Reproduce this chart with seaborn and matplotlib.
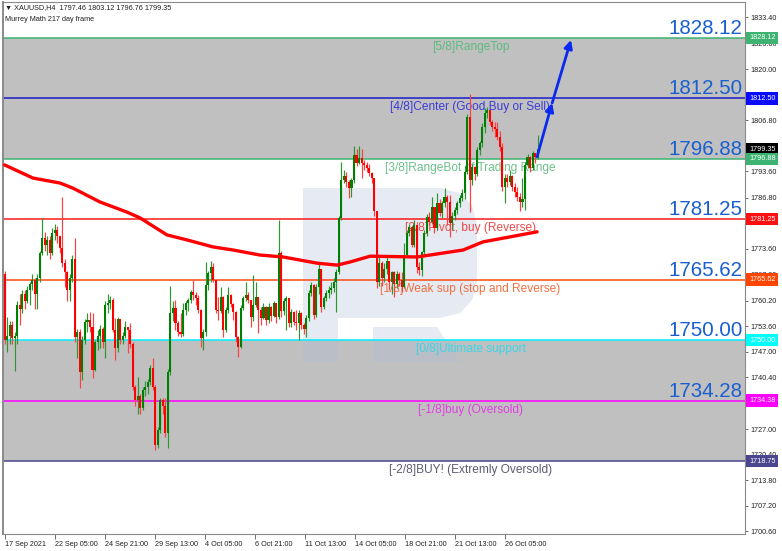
import numpy as np
import matplotlib
matplotlib.use("Agg")
import matplotlib.pyplot as plt
import seaborn as sns
from matplotlib.patches import Polygon

# ---------------- data ----------------
first_open = 1767.0
closes = [
    1750, 1751, 1754, 1750.5, 1751, 1759, 1758, 1762, 1760, 1763,
    1764.5, 1765.5, 1762, 1766, 1772.5, 1776.4, 1774.6, 1776, 1772.5, 1777.6, 1778.5,
    1777, 1773.8, 1770, 1767.5, 1763, 1766, 1771, 1750.8, 1752, 1741.8, 1750,
    1754.7, 1755.2, 1753.4, 1742.3, 1749.5, 1751,
    1753, 1749.5, 1759, 1759.5, 1760.5, 1752.6, 1748, 1755.5, 1750, 1751, 1753.5,
    1752.6, 1749, 1738, 1734.5, 1735.5, 1732.4, 1737, 1738,
    1739.2, 1742.8, 1737.9, 1723, 1726.8, 1734.5, 1733, 1726,
    1741.8, 1757, 1758.3, 1754.4, 1752, 1751.5, 1757.8, 1759.5, 1760.4, 1762.4,
    1761.8, 1761, 1757.8, 1750.5, 1752, 1764.3, 1767.4, 1769, 1765.6, 1757.8,
    1757.5, 1761.2, 1752.6, 1757.8, 1761.7, 1759.4, 1757.3, 1750.8, 1748.2, 1758.3,
    1760.9, 1761.7,
    1760.4, 1756, 1759, 1761.2, 1757.8, 1755.8, 1758.6,
    1755.2, 1758.6, 1756.3, 1759.6, 1756, 1772.5, 1757.6, 1760, 1760.8, 1754.4,
    1757.3, 1754.7,
    1754.4, 1757.1, 1753.9, 1753, 1755.7, 1762.2, 1764.3,
    1756.5, 1763.7, 1768.4, 1758.6, 1760.9, 1762.2, 1763, 1763.5, 1765, 1767.6,
    1781.5, 1791.4, 1792.5, 1791, 1789.3, 1791.4, 1797.9, 1795.8, 1797.1, 1795.8,
    1795.3, 1794.5, 1793.2, 1791.9, 1783.3, 1765, 1770, 1766, 1768.5, 1770.5,
    1765, 1767.5, 1764.5, 1767, 1765.5, 1763.7, 1772, 1777.7, 1779.3,
    1774.6, 1779.8, 1768.9, 1768.1, 1772.8, 1777.7, 1781.8, 1780.5, 1784.4, 1779,
    1785.4, 1782.9, 1785.4, 1787, 1785.7,
    1780.3, 1782, 1783.6, 1785.4,
    1786.7, 1788, 1793.5, 1807.7, 1791.4, 1794.8, 1793, 1799.2, 1801, 1805.1,
    1808.7, 1809.5, 1806.4, 1805.1, 1804.6,
    1802.5, 1800, 1789.6, 1791.9,
    1790.9, 1792.5, 1789.6, 1788.3, 1787, 1785.7, 1786.5, 1795.3, 1797.4, 1794.5,
    1798.5, 1797.46, 1799.35,
]
highs = [
    1768, 1756, 1755, 1755, 1752, 1760, 1762, 1763, 1763, 1764,
    1765, 1767, 1766, 1767, 1773, 1781.5, 1778, 1777, 1777, 1779, 1780,
    1779.5, 1777, 1787, 1771, 1768, 1767, 1772, 1776.4, 1753, 1753, 1751,
    1755.5, 1757, 1757.3, 1757, 1750, 1752.5,
    1754, 1753.5, 1760, 1762, 1761.5, 1761, 1755.8, 1756, 1755.5, 1752, 1755,
    1753, 1754.4, 1749.5, 1738.5, 1740.5, 1736, 1738, 1739.5,
    1740, 1743.5, 1745.4, 1738.5, 1727.5, 1735, 1735, 1735,
    1742.5, 1764, 1760, 1760.4, 1755, 1757, 1759.6, 1760, 1761, 1763,
    1765.6, 1762.5, 1761.7, 1758, 1753, 1770.2, 1768, 1770.5, 1770, 1765.6,
    1761.2, 1763.7, 1761.5, 1758.5, 1763.7, 1762, 1759.6, 1757.5, 1751, 1759,
    1761.5, 1765,
    1762.5, 1760.5, 1766.9, 1765, 1761.2, 1758.6, 1759.5,
    1758.8, 1759.5, 1758.8, 1760, 1759.6, 1781, 1773, 1761, 1761.5, 1760.8,
    1758, 1757.5,
    1757.8, 1757.8, 1757.2, 1754.5, 1756.5, 1763, 1765,
    1764.5, 1764.5, 1770, 1768.4, 1761.5, 1763, 1764, 1765, 1766, 1768.5,
    1782, 1796, 1794, 1793.5, 1791.5, 1792, 1800.2, 1799.5, 1800.2, 1799.5,
    1796.5, 1796, 1795.5, 1793.5, 1792, 1783.5, 1771.5, 1770.5, 1770, 1772,
    1768.5, 1768, 1768, 1768, 1767.5, 1767.5, 1775, 1778.5, 1780,
    1779.5, 1781, 1779.8, 1770.2, 1773, 1778.5, 1782.5, 1783, 1787, 1784.5,
    1788, 1786.5, 1786, 1789.3, 1787.5,
    1787.5, 1783, 1784.5, 1786,
    1787.5, 1789, 1795, 1808.5, 1813.5, 1795.5, 1795, 1800, 1801.5, 1806,
    1810, 1810.2, 1809, 1807, 1806.5,
    1806.5, 1804, 1801, 1793,
    1793, 1794, 1792.8, 1790.5, 1789.5, 1788, 1792, 1796, 1798, 1797.5,
    1799, 1798.5, 1803.12,
]
lows = [
    1749, 1747, 1749, 1749, 1742, 1749, 1754, 1757, 1758, 1759.5,
    1759, 1763, 1758, 1758, 1765, 1772, 1773, 1772, 1771, 1772, 1776,
    1775, 1772.5, 1769, 1763.7, 1760, 1760, 1765, 1749.6, 1745.5, 1737.6, 1739.7,
    1749, 1752, 1752, 1740.2, 1742, 1747.5,
    1748, 1748, 1745.4, 1757, 1758, 1752, 1744.9, 1747, 1749, 1749, 1750.5,
    1746.7, 1748, 1737, 1733, 1731, 1731, 1732, 1735.5,
    1736, 1738.5, 1737, 1721.6, 1722, 1726, 1731, 1725,
    1722.1, 1741, 1755, 1752.6, 1751, 1750.8, 1751, 1756.5, 1757.5, 1759.6,
    1760.5, 1759, 1757, 1748.2, 1747.5, 1751, 1763, 1765, 1765, 1757,
    1755.2, 1757, 1750.8, 1752, 1757, 1758.5, 1755.2, 1749.6, 1745.6, 1748,
    1757.8, 1760,
    1759.5, 1753.4, 1755, 1758.5, 1751.9, 1754, 1755.5,
    1754, 1754.5, 1755, 1756, 1754.4, 1755.5, 1756, 1756.5, 1752.6, 1753.5,
    1753.5, 1753.8,
    1752.6, 1750, 1753, 1751.5, 1750.8, 1755, 1761.5,
    1755.5, 1756, 1762, 1757.3, 1758, 1760, 1761, 1762, 1762.5, 1757.3,
    1767, 1781, 1790.5, 1789.5, 1786.8, 1787, 1790.5, 1795, 1795.5, 1792,
    1794, 1793.5, 1792.5, 1790.5, 1782, 1763.5, 1764, 1764, 1765, 1767,
    1763, 1762, 1761.2, 1763.5, 1764, 1762.5, 1763.5, 1771.5, 1777,
    1774, 1774, 1767.4, 1766.9, 1766.5, 1772, 1777, 1779.8, 1780, 1777.7,
    1778.5, 1782, 1781.5, 1784.5, 1779.8,
    1776.7, 1778.5, 1781, 1782.5,
    1784.5, 1786, 1786.5, 1793, 1783, 1790, 1791.5, 1792.5, 1797.8, 1800,
    1803.5, 1807.4, 1805.5, 1804, 1802.5,
    1801.8, 1799, 1788.5, 1785.5,
    1789.5, 1790, 1788.5, 1787, 1786, 1783.5, 1784.4, 1783.6, 1794.5, 1793.5,
    1794, 1795.8, 1796.76,
]
assert len(closes) == len(highs) == len(lows)

# Murrey-frame moving average (thick red line), read at bar positions
ma_bar = [0, 11.3, 22.1, 27.2, 38, 48.7, 53.9, 64.6, 72.6, 82.9, 90.9,
          101.6, 110.8, 124.3, 132.3, 137.4, 145.4, 164.1, 182.4, 190.3, 201.1, 211.8]
ma_val = [1795.3, 1791.9, 1790.6, 1789.3, 1785.7, 1783.1, 1781.6, 1777.2, 1775.9, 1774.1, 1773.3,
          1772.0, 1771.5, 1769.9, 1769.4, 1770.2, 1771.7, 1771.5, 1773.3, 1775.4, 1776.7, 1778.0]

# forecast arrow (bar position, price)
arrow_bar = [211.8, 217.8, 225.3]
arrow_val = [1797.4, 1811.3, 1827.6]

level_values = [1828.12, 1812.50, 1796.88, 1781.25, 1765.62, 1750.00, 1734.38, 1718.75]
level_names = ["[5/8]RangeTop", "[4/8]Center (Good Buy or Sell)",
               "[3/8]RangeBot of Trading Range", "[2/8]Pivot, buy (Reverse)",
               "[1/8]Weak sup (stop and Reverse)", "[0/8]Ultimate support",
               "[-1/8]buy (Oversold)", "[-2/8]BUY! (Extremly Oversold)"]
big_labels = ["1828.12", "1812.50", "1796.88", "1781.25", "1765.62", "1750.00", "1734.28"]
axis_labels = ["1828.12", "1812.50", "1796.88", "1781.25", "1765.62", "1750.00", "1734.38", "1718.75"]
last_price = 1799.35
band_ranges = [(1796.88, 1828.12), (1718.75, 1750.00)]

# right-axis scale labels (those fully hidden behind price boxes are not shown)
ytick_values = [1700.60, 1707.20, 1713.80, 1720.40, 1727.00, 1740.40, 1747.00,
                1753.60, 1760.20, 1767.00, 1773.60, 1786.80, 1793.60,
                1806.80, 1820.00, 1826.80, 1833.40]
xtick_labels = ["17 Sep 2021", "22 Sep 05:00", "24 Sep 21:00", "29 Sep 13:00", "4 Oct 05:00",
                "6 Oct 21:00", "11 Oct 13:00", "14 Oct 05:00", "18 Oct 21:00", "21 Oct 13:00",
                "26 Oct 05:00"]

header1 = "\u25BC XAUUSD,H4  1797.46 1803.12 1796.76 1799.35"
header2 = "Murrey Math 217 day frame"

# ---------------- styles ----------------
level_line_colors = ["#3cb371", "#1c1cc8", "#3cb371", "#ff1a1a", "#ff4a10", "#00f0ff", "#ff00ff", "#4a4690"]
level_text_colors = ["#5dbb80", "#3c3cd8", "#6cc08a", "#ee4a4a", "#f27040", "#3ad6e6", "#e23ee2", "#5c5c70"]
axis_box_colors = ["#3cb371", "#0a0aff", "#3cb371", "#ff1010", "#ff4500", "#00ffff", "#ff00ff", "#4a4690"]
BIG_BLUE = "#1a5fd0"
GREEN = "#008000"
RED = "#ff0000"

sns.set_theme(style="white")
plt.rcParams["font.family"] = ["Liberation Sans", "DejaVu Sans"]

W, H = 782, 551
fig = plt.figure(figsize=(W / 100, H / 100), dpi=100)
fig.patch.set_facecolor("white")
L, R, T, B = 3, 745, 2, 534
ax = fig.add_axes([L / W, (H - B) / H, (R - L) / W, (B - T) / H])
ax.set_facecolor("white")

n = len(closes)
xs = np.arange(n)
opens = np.array([first_open] + list(closes[:-1]))
closes_a = np.array(closes)
highs_a = np.maximum(np.array(highs), np.maximum(opens, closes_a))
lows_a = np.minimum(np.array(lows), np.minimum(opens, closes_a))

XMIN, XMAX = -0.6, 294.5
YMIN, YMAX = 1699.9, 1837.4
ax.set_xlim(XMIN, XMAX)
ax.set_ylim(YMIN, YMAX)

# grey bands
for lo, hi in band_ranges:
    ax.axhspan(lo, hi, color="#c0c0c0", zorder=0, lw=0)

# watermark "R" (pixel-space layout converted to axes fraction)
def px(xp, yp):
    return ((xp - L) / (R - L), (B - yp) / (B - T))
bowl = [px(303, 188), px(440, 188), px(460, 193), px(472, 205), px(477, 225), px(477, 282),
        px(472, 300), px(460, 313), px(440, 318), px(338, 318), px(338, 362), px(303, 362)]
leg = [px(373, 327), px(437, 327), px(460, 362), px(373, 362)]
for poly in (bowl, leg):
    ax.add_patch(Polygon(poly, closed=True, transform=ax.transAxes, facecolor="#a9bcd8",
                         alpha=0.30, edgecolor="none", zorder=0.5))

# Murrey levels
for v, c in zip(level_values, level_line_colors):
    ax.axhline(v, color=c, lw=1.1, zorder=1)

for v, name, c in zip(level_values, level_names, level_text_colors):
    ax.annotate(name, xy=(0.630, v), xycoords=("axes fraction", "data"),
                xytext=(0, -3), textcoords="offset pixels", ha="center", va="top",
                fontsize=8.6, color=c, zorder=1.5)

for v, lab in zip(level_values, big_labels):
    ax.annotate(lab, xy=(0.9965, v), xycoords=("axes fraction", "data"),
                xytext=(0, 4), textcoords="offset pixels", ha="right", va="baseline",
                fontsize=14.8, color=BIG_BLUE, zorder=5)

# candles
up = closes_a >= opens
body_colors = np.where(up, GREEN, RED)
wick_colors = np.where(up, "#2f962f", "#ff4040")
ax.vlines(xs, lows_a, highs_a, colors=wick_colors, lw=0.85, zorder=2)
body_bottom = np.minimum(opens, closes_a)
body_h = np.maximum(np.abs(closes_a - opens), 0.3)
ax.bar(xs, body_h, bottom=body_bottom, width=0.82, color=body_colors, lw=0, zorder=2.2)

# moving average via seaborn
sns.lineplot(x=ma_bar, y=ma_val, ax=ax, color="#ff0000", lw=2.4, zorder=3, legend=False)

# forecast arrows
for i in range(len(arrow_bar) - 1):
    ax.annotate("", xy=(arrow_bar[i + 1], arrow_val[i + 1]), xytext=(arrow_bar[i], arrow_val[i]),
                arrowprops=dict(arrowstyle="-|>", color="#0a2aee", lw=2.0,
                                mutation_scale=12, shrinkA=0, shrinkB=0), zorder=4)

# axes styling
for s in ax.spines.values():
    s.set_color("#8a8a8a")
    s.set_linewidth(0.8)
ax.spines["left"].set_linewidth(1.4)

ax.yaxis.tick_right()
ax.set_yticks(ytick_values)
ax.set_yticklabels([f"{v:.2f}" for v in ytick_values])
ax.tick_params(axis="y", which="both", right=True, left=False, length=2.5, width=0.6,
               color="#555555", labelsize=5.2, labelcolor="#202020", pad=1.5)

xt = np.arange(len(xtick_labels)) * 19.9
ax.set_xticks(xt)
ax.set_xticklabels(xtick_labels, ha="left")
ax.tick_params(axis="x", bottom=True, length=3.5, width=0.6, color="#555555",
               labelsize=5.2, labelcolor="#202020", pad=1.5)
for lab in ax.get_xticklabels():
    lab.set_horizontalalignment("left")
ax.grid(False)
ax.set_xlabel("")
ax.set_ylabel("")

# price boxes on the right axis
box_vals = level_values[:3] + [last_price] + level_values[3:]
box_labs = axis_labels[:3] + [f"{last_price:.2f}"] + axis_labels[3:]
box_cols = axis_box_colors[:3] + ["#000000"] + axis_box_colors[3:]
order = [0, 1, 3, 2, 4, 5, 6, 7, 8]
for k in order:
    ax.annotate(box_labs[k], xy=(1.0, box_vals[k]), xycoords=("axes fraction", "data"),
                xytext=(4, 0), textcoords="offset pixels", ha="left", va="center",
                fontsize=5.2, color="white", zorder=6, annotation_clip=False,
                bbox=dict(boxstyle="square,pad=0.38", fc=box_cols[k], ec="none"))

# header
ax.text(0.003, 0.989, header1, transform=ax.transAxes, fontsize=5.2, color="#202020",
        va="center", ha="left", zorder=6)
ax.text(0.003, 0.968, header2, transform=ax.transAxes, fontsize=5.2, color="#202020",
        va="center", ha="left", zorder=6)

fig.savefig("out.png", dpi=100, facecolor="white")
